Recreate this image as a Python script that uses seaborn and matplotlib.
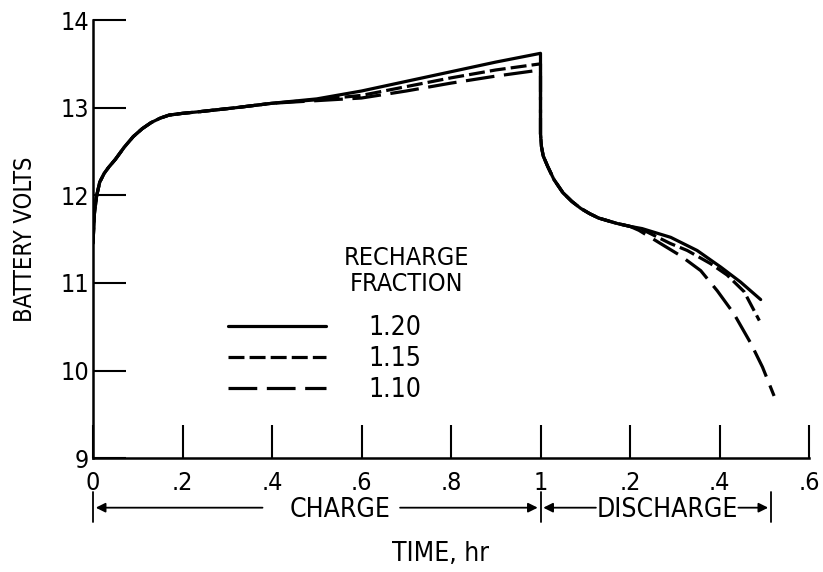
import numpy as np
import pandas as pd
import matplotlib
matplotlib.use('Agg')
import matplotlib.pyplot as plt
from matplotlib.lines import Line2D
import seaborn as sns

# battery voltage vs time, charge (0-1 hr) then discharge (1-1.6 hr)
t_charge_start = [0, 0.003, 0.008, 0.015, 0.025, 0.035, 0.05, 0.07, 0.09, 0.11, 0.13, 0.15, 0.17, 0.20, 0.24, 0.32, 0.40]
v_charge_start = [11.45, 11.78, 11.99, 12.15, 12.25, 12.32, 12.41, 12.55, 12.67, 12.76, 12.83, 12.88, 12.915, 12.935, 12.955, 13.0, 13.05]

t_charge_end = [0.50, 0.60, 0.70, 0.80, 0.90, 1.0]
v_charge_120 = [13.10, 13.19, 13.30, 13.41, 13.52, 13.62]
v_charge_115 = [13.09, 13.14, 13.24, 13.34, 13.43, 13.50]
v_charge_110 = [13.08, 13.11, 13.19, 13.28, 13.36, 13.43]

t_drop = [1.0, 1.0, 1.002, 1.006, 1.016, 1.03, 1.05, 1.07, 1.09, 1.11, 1.13, 1.15, 1.17, 1.20]
v_drop = [12.9, 12.7, 12.56, 12.45, 12.33, 12.18, 12.03, 11.93, 11.85, 11.79, 11.74, 11.71, 11.68, 11.645]

t_dis_120 = [1.227, 1.291, 1.35, 1.403, 1.447, 1.492]
v_dis_120 = [11.62, 11.52, 11.37, 11.18, 11.01, 10.81]
t_dis_115 = [1.227, 1.29, 1.328, 1.38, 1.417, 1.455, 1.489]
v_dis_115 = [11.61, 11.45, 11.37, 11.22, 11.09, 10.9, 10.57]
t_dis_110 = [1.22, 1.268, 1.313, 1.358, 1.395, 1.432, 1.47, 1.496, 1.522]
v_dis_110 = [11.6, 11.45, 11.31, 11.14, 10.91, 10.65, 10.31, 10.04, 9.71]

fractions = ['1.20', '1.15', '1.10']
x_ticks = [0, 0.2, 0.4, 0.6, 0.8, 1.0, 1.2, 1.4, 1.6]
x_labels = ['0', '.2', '.4', '.6', '.8', '1', '.2', '.4', '.6']
y_ticks = [9, 10, 11, 12, 13, 14]

frames = []
for frac, vc, td, vd in zip(fractions,
                            [v_charge_120, v_charge_115, v_charge_110],
                            [t_dis_120, t_dis_115, t_dis_110],
                            [v_dis_120, v_dis_115, v_dis_110]):
    t = t_charge_start + t_charge_end + t_drop + td
    v = v_charge_start + vc + v_drop + vd
    frames.append(pd.DataFrame({'time': t, 'volts': v, 'fraction': frac}))
df = pd.concat(frames, ignore_index=True)

sns.set_style('ticks', rc={'text.color': 'black', 'axes.labelcolor': 'black',
                           'xtick.color': 'black', 'ytick.color': 'black', 'axes.edgecolor': 'black'})
plt.rcParams['font.family'] = ['DejaVu Sans']
plt.rcParams['font.stretch'] = 'condensed'

fig = plt.figure(figsize=(8.23, 5.72), dpi=100)
ax = fig.add_axes([0.113, 0.199, 0.870, 0.766])

dash_map = {'1.20': '', '1.15': (5, 1.6), '1.10': (9, 3)}
sns.lineplot(data=df, x='time', y='volts', style='fraction', dashes=dash_map,
             sort=False, estimator=None, color='black', linewidth=2.3, legend=False, ax=ax)

ax.set_xlim(0, 1.6)
ax.set_ylim(9, 14)
ax.set_xticks(x_ticks)
ax.set_xticklabels(x_labels)
ax.set_yticks(y_ticks)
sns.despine(ax=ax)
for s in ['left', 'bottom']:
    ax.spines[s].set_linewidth(1.8)
ax.tick_params(axis='both', direction='in', length=24, width=1.5, labelsize=18)
ax.tick_params(axis='x', pad=9)
ax.tick_params(axis='y', pad=3)

ax.set_ylabel('BATTERY VOLTS', fontsize=17)
ax.yaxis.set_label_coords(-0.078, 0.5)
ax.set_xlabel('TIME, hr', fontsize=19)
ax.xaxis.set_label_coords(0.485, -0.19)

# charge / discharge brackets below the axis
tr = ax.get_xaxis_transform()
ya = -0.113
for xb in [0, 1.0, 1.515]:
    ax.plot([xb, xb], [-0.078, -0.146], color='black', lw=1.3, transform=tr, clip_on=False)
arrow = dict(arrowstyle='-|>', color='black', lw=1.3, mutation_scale=14)
ax.annotate('', xy=(0, ya), xytext=(0.385, ya), xycoords=tr, textcoords=tr, arrowprops=arrow)
ax.annotate('', xy=(1.0, ya), xytext=(0.68, ya), xycoords=tr, textcoords=tr, arrowprops=arrow)
ax.text(0.553, ya - 0.006, 'CHARGE', transform=tr, ha='center', va='center', fontsize=19)
ax.annotate('', xy=(1.0, ya), xytext=(1.13, ya), xycoords=tr, textcoords=tr, arrowprops=arrow)
ax.annotate('', xy=(1.515, ya), xytext=(1.436, ya), xycoords=tr, textcoords=tr, arrowprops=arrow)
ax.text(1.284, ya - 0.006, 'DISCHARGE', transform=tr, ha='center', va='center', fontsize=19)

# legend
handles = [Line2D([], [], color='black', lw=2.3, linestyle='-'),
           Line2D([], [], color='black', lw=2.3, dashes=dash_map['1.15']),
           Line2D([], [], color='black', lw=2.3, dashes=dash_map['1.10'])]
ax.legend(handles, fractions, loc='upper left', bbox_to_anchor=(0.189, 0.327), frameon=False,
          fontsize=19, handlelength=3.7, handletextpad=1.6, labelspacing=0.2, borderpad=0, borderaxespad=0)
ax.text(0.70, 11.14, 'RECHARGE\nFRACTION', ha='center', va='center', fontsize=18, linespacing=1.1)

fig.savefig('out.png', dpi=100)
